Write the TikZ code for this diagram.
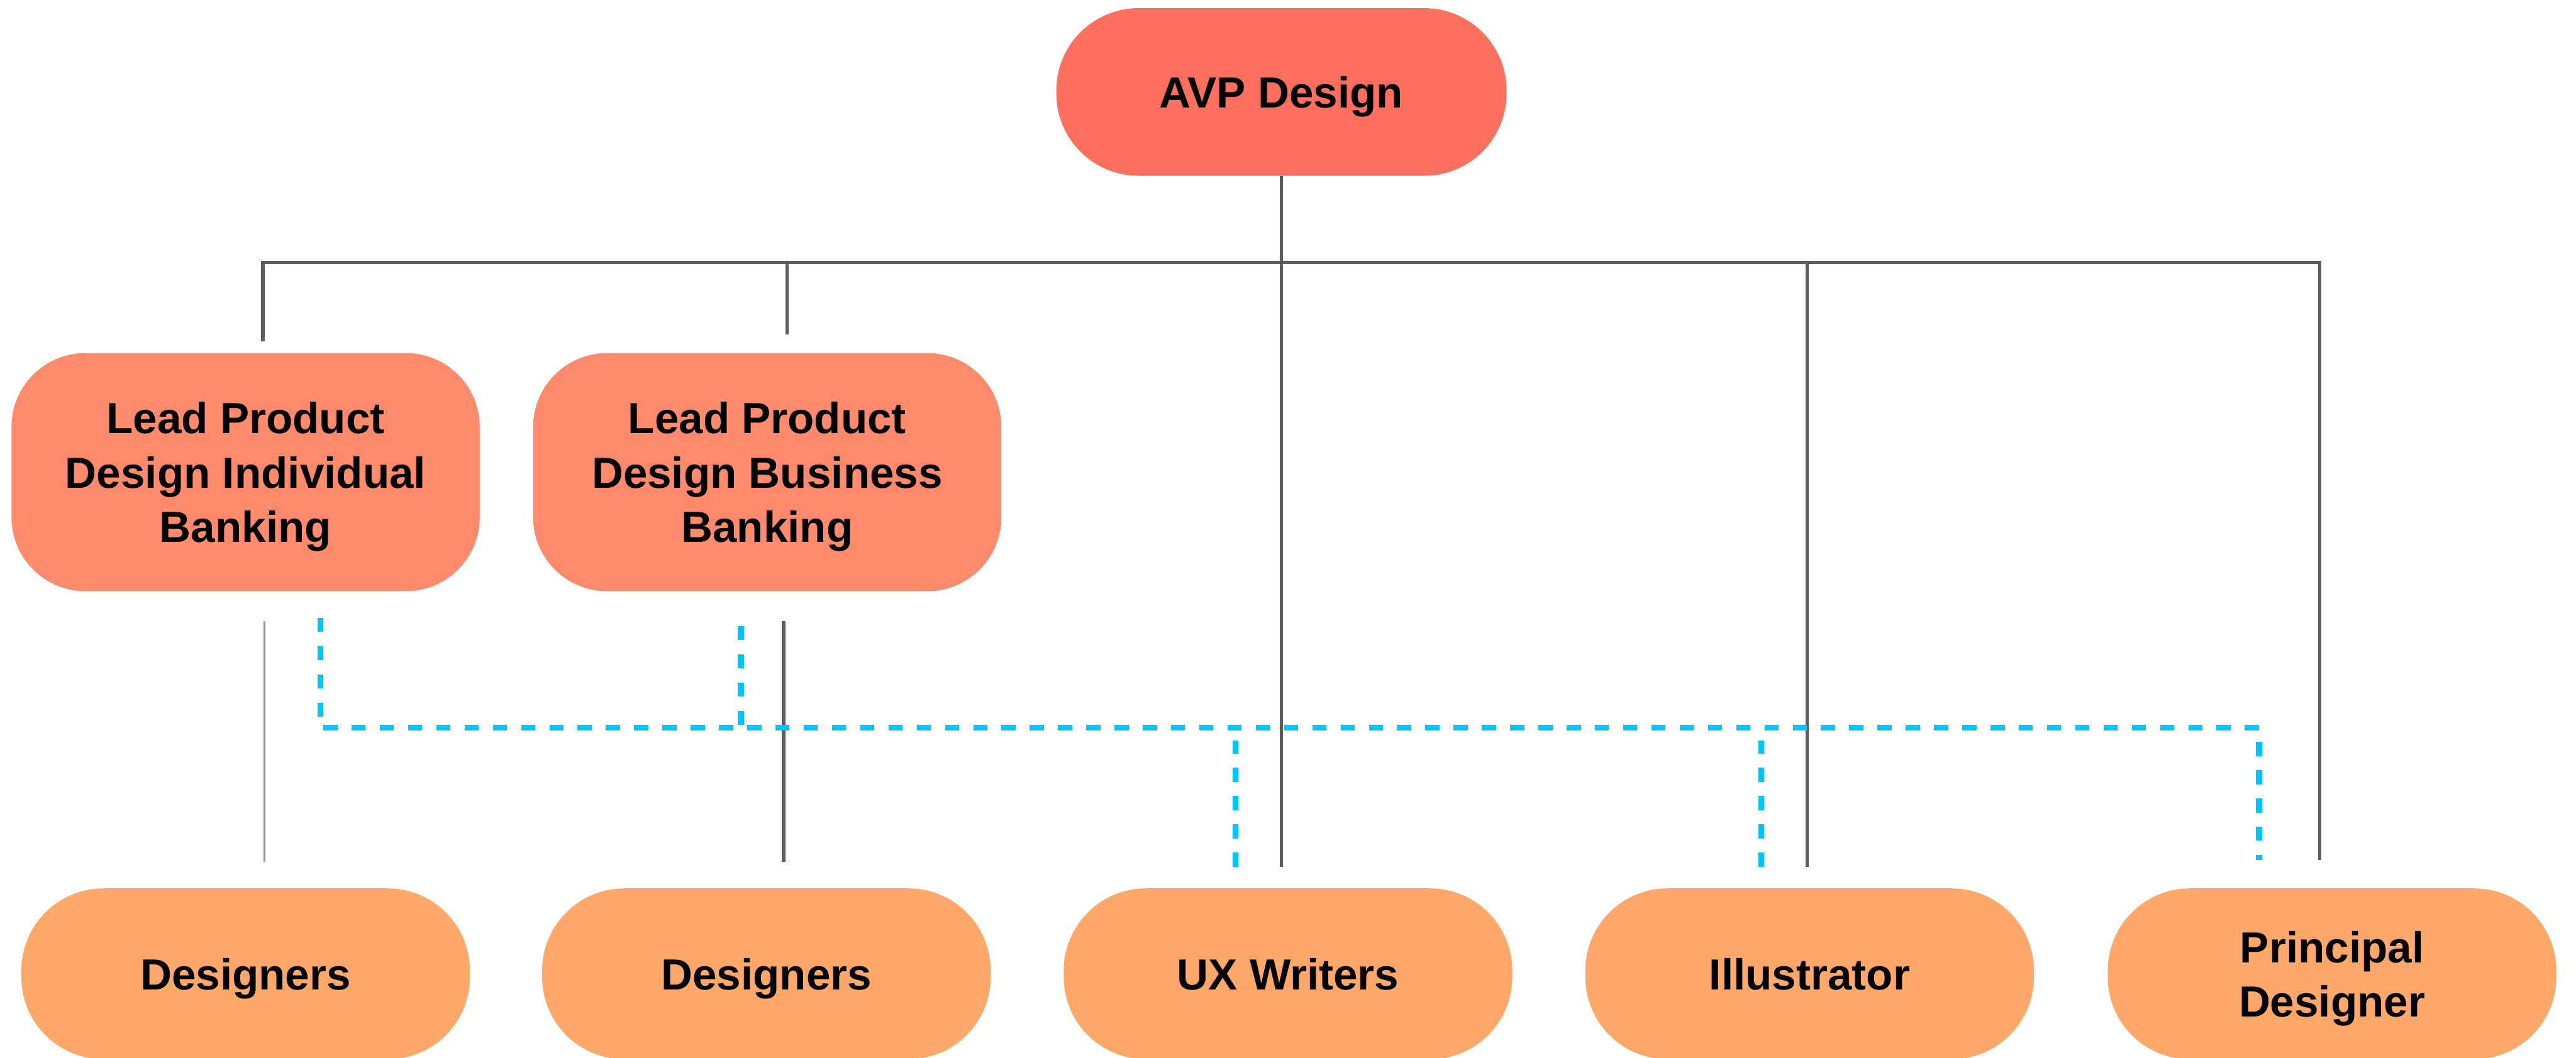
\documentclass[tikz,border=0pt]{standalone}
\usepackage{fontspec}
\setmainfont{Liberation Sans}
\usetikzlibrary{calc}

\definecolor{avpc}{RGB}{255,111,94}
\definecolor{leadc}{RGB}{255,138,108}
\definecolor{staffc}{RGB}{255,168,106}
\definecolor{wirec}{RGB}{93,93,93}
\definecolor{thinc}{RGB}{150,150,150}
\definecolor{linkc}{RGB}{0,196,255}

\begin{document}
\begin{tikzpicture}[x=1pt,y=-1pt,
  box/.style={rectangle, inner sep=0pt, align=center, text depth=0pt,
    font=\fontsize{26.5}{33}\selectfont\bfseries},
  topbox/.style={box, rounded corners=50pt, fill=avpc, minimum width=274pt, minimum height=102pt},
  leadbox/.style={box, rounded corners=45pt, fill=leadc, minimum width=285pt, minimum height=145pt},
  staffbox/.style={box, rounded corners=50pt, fill=staffc, minimum width=273pt, minimum height=104pt},
  wire/.style={draw=wirec, line width=2.1pt},
  thinwire/.style={draw=thinc, line width=1.3pt},
  dotlink/.style={draw=linkc, line width=3.6pt, dash pattern=on 8.6pt off 8.6pt}]

\useasboundingbox (0,0) rectangle (1568,644);

% boxes
\node[topbox] (avp) at (780,56) {AVP Design};
\node[leadbox] (lead1) at (149.5,287.5) {Lead Product\\Design Individual\\Banking};
\node[leadbox] (lead2) at (467,287.5) {Lead Product\\Design Business\\Banking};
\node[staffbox] (des1) at (149.5,593) {Designers};
\node[staffbox] (des2) at (466.5,593) {Designers};
\node[staffbox] (ux) at (784,593) {UX Writers};
\node[staffbox] (ill) at (1101.5,593) {Illustrator};
\node[staffbox] (prin) at (1419.5,593) {Principal\\Designer};

\coordinate (bus) at (780,160);

% reporting lines
\draw[wire, shorten >=13pt] (avp.south) -- (avp.south |- ux.north);
\draw[wire] ([xshift=10.5pt,yshift=7pt]lead1.north) -- ++(0,-48)
  -| ([xshift=-7.5pt,yshift=17pt]prin.north);
\draw[wire] ([xshift=12pt,yshift=11pt]lead2.north) -- ([xshift=12pt]lead2.north |- bus);
\draw[wire] ([xshift=-1.5pt]ill.north |- bus) -- ([xshift=-1.5pt,yshift=13pt]ill.north);
\draw[thinwire] ([xshift=11.5pt,yshift=-18pt]lead1.south) -- ([xshift=11.5pt,yshift=16pt]des1.north);
\draw[wire] ([xshift=10pt,yshift=-18pt]lead2.south) -- ([xshift=10.5pt,yshift=16pt]des2.north);

% dotted-line links
\draw[dotlink] ([xshift=45.5pt,yshift=-16pt]lead1.south) -- ++(0,67)
  -| ([xshift=-44.5pt,yshift=17pt]prin.north);
\draw[dotlink] ([xshift=-16pt,yshift=-21pt]lead2.south) -- ++(0,62);
\draw[dotlink] ([xshift=-32pt,yshift=13pt]ux.north) -- ++(0,-77);
\draw[dotlink] ([xshift=-29.5pt,yshift=13pt]ill.north) -- ++(0,-77);
\end{tikzpicture}
\end{document}
